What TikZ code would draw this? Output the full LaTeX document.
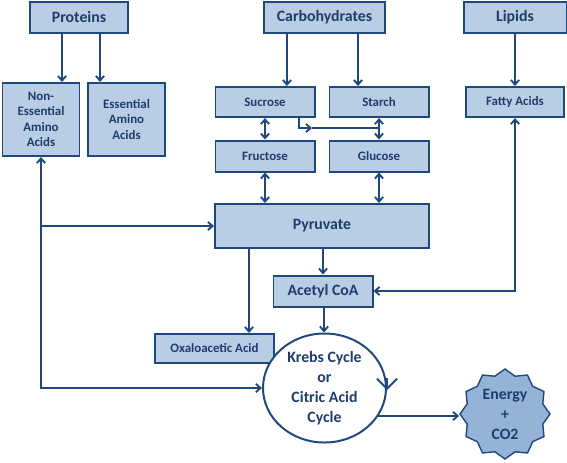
\documentclass[tikz,border=0pt]{standalone}
\usepackage{fontspec}
\setmainfont{Carlito}
\usetikzlibrary{arrows.meta, shapes.geometric}
\definecolor{boxfill}{HTML}{B9CDE5}
\definecolor{boxline}{HTML}{1F497D}
\definecolor{boxtext}{HTML}{1F3D6B}
\definecolor{starfill}{HTML}{95B3D7}

\begin{document}
\begin{tikzpicture}[x=0.03cm, y=-0.03cm,
        box/.style={rectangle, draw=boxline, fill=boxfill, line width=1.7pt, text=boxtext, font=\bfseries\fontsize{11}{13.2}\selectfont, align=center, inner sep=0pt},
        bigbox/.style={box, font=\bfseries\fontsize{13.5}{17}\selectfont},
        conn/.style={draw=boxline, line width=1.6pt},
        arr/.style={conn, -{Straight Barb[length=4pt,width=7pt]}},
        dbl/.style={conn, {Straight Barb[length=4pt,width=7pt]}-{Straight Barb[length=4pt,width=7pt]}}]
        \useasboundingbox (0,0) rectangle (567,462);

        % Draw nodes
        \node[bigbox, minimum width=2.94cm, minimum height=0.93cm] (prot) at (79,17.5) {Proteins};
        \node[bigbox, minimum width=3.63cm, minimum height=0.93cm] (carb) at (324.5,17.5) {Carbohydrates};
        \node[bigbox, minimum width=3.09cm, minimum height=0.93cm] (lip) at (515,17.5) {Lipids};
        \node[box, minimum width=2.31cm, minimum height=2.19cm] (nonEss) at (41,119.5) {Non-\\Essential\\Amino\\Acids};
        \node[box, minimum width=2.31cm, minimum height=2.19cm] (ess) at (126.5,119.5) {Essential\\Amino\\Acids};
        \node[box, minimum width=2.97cm, minimum height=0.9cm] (suc) at (265,102) {Sucrose};
        \node[box, minimum width=2.97cm, minimum height=0.9cm] (sta) at (379,102) {Starch};
        \node[box, minimum width=2.94cm, minimum height=0.9cm] (fat) at (515,102) {Fatty Acids};
        \node[box, minimum width=2.97cm, minimum height=0.93cm] (fru) at (265,156) {Fructose};
        \node[box, minimum width=2.97cm, minimum height=0.93cm] (glu) at (379,156) {Glucose};
        \node[bigbox, minimum width=6.42cm, minimum height=1.32cm] (pyr) at (322,226) {Pyruvate};
        \node[bigbox, minimum width=2.97cm, minimum height=0.93cm] (ace) at (323,291) {Acetyl CoA};
        \node[box, minimum width=3.57cm, minimum height=0.87cm] (oxa) at (214.5,348.5) {Oxaloacetic Acid};
        \node[bigbox, ellipse, fill=white, minimum width=3.69cm, minimum height=3.27cm] (krebs) at (324.5,388) {Krebs Cycle\\or\\Citric Acid\\Cycle};
        \node[bigbox, star, star points=12, star point ratio=1.15, fill=starfill, line width=1.2pt, minimum size=2.7cm] (energy) at (505,414) {Energy\\+\\CO2};
        \coordinate (mid) at (312,128);
        \coordinate (out) at (377,416);

        % Draw connections
        \draw[arr] (prot.south -| 62,0) -- (nonEss.north -| 62,0);
        \draw[arr] (prot.south -| 100,0) -- (ess.north -| 100,0);
        \draw[arr] (carb.south -| 287,0) -- (suc.north -| 287,0);
        \draw[arr] (carb.south -| 358,0) -- (sta.north -| 358,0);
        \draw[arr] (lip.south) -- (lip.south |- fat.north);
        \draw[dbl] (suc) -- (fru);
        \draw[dbl] (sta) -- (glu);
        \draw[arr] (suc.south -| 299,0) |- (mid);
        \draw[conn] (mid) -- (mid -| glu);
        \draw[dbl] (fru.south) -- (fru.south |- pyr.north);
        \draw[dbl] (glu.south) -- (glu.south |- pyr.north);
        \draw[arr] (pyr.south -| ace) -- (ace.north);
        \draw[arr] (pyr.south -| 249,0) -- (oxa.north -| 249,0);
        \draw[arr] (ace.south -| 324,0) -- (krebs.north -| 324,0);
        \draw[dbl] (fat.south) |- (ace.east);
        \draw[dbl] (nonEss.south) |- (krebs.west);
        \draw[arr] (nonEss.south |- pyr.west) -- (pyr.west);
        \draw[arr] (out) -- (out -| energy.180);
        \draw[conn, -{Straight Barb[length=0.3cm,width=0.6cm]}] ([yshift=0.3cm]krebs.east) -- ([yshift=-0.06cm]krebs.east);
    \end{tikzpicture}
\end{document}
